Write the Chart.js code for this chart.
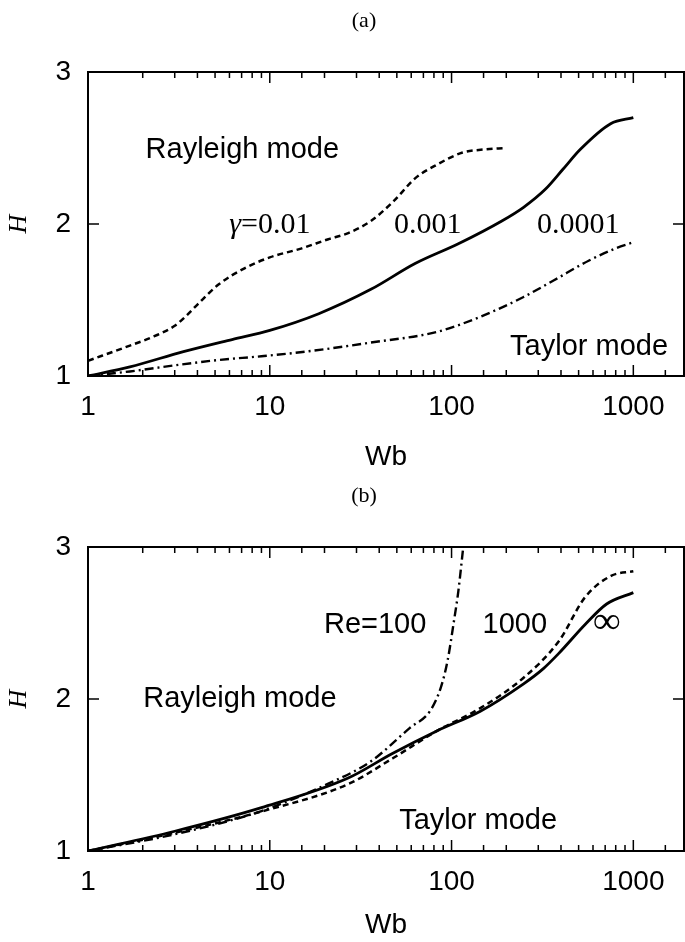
<!DOCTYPE html>
<html>
<head>
<meta charset="utf-8">
<script src="https://cdn.jsdelivr.net/npm/chart.js@4.4.0/dist/chart.umd.min.js"></script>
<style>
  body { margin: 0; background: #fff; }
  #wrap { position: relative; width: 685px; height: 942px; }
  canvas { position: absolute; left: 0; }
</style>
</head>
<body>
<div id="wrap">
  <canvas id="chartA" width="685" height="475" style="top:0"></canvas>
  <canvas id="chartB" width="685" height="467" style="top:475px"></canvas>
</div>
<script>
// x tick labels (log axis)
const wbTicks = [1, 10, 100, 1000];

// panel (a): gamma = 0.01, 0.001, 0.0001
const wbA1 = [1, 1.7, 2.3, 3, 3.5, 4, 5.2, 7.3, 10, 15, 21, 27, 36, 48, 63, 83, 115, 150, 200];
const hA1  = [1.10, 1.20, 1.26, 1.33, 1.40, 1.47, 1.60, 1.71, 1.78, 1.84, 1.90, 1.94, 2.02, 2.15, 2.30, 2.39, 2.47, 2.49, 2.50];
const wbA2 = [1, 1.7, 3.35, 6.2, 10, 18.6, 36, 63, 109, 189, 249, 329, 410, 510, 750, 1000];
const hA2  = [1.0, 1.06, 1.16, 1.24, 1.30, 1.41, 1.57, 1.74, 1.87, 2.02, 2.11, 2.23, 2.36, 2.49, 2.66, 2.70];
const wbA3 = [1, 1.7, 3, 5.2, 9, 15.7, 36, 83, 144, 249, 366, 571, 800, 1000];
const hA3  = [1.0, 1.03, 1.07, 1.105, 1.13, 1.16, 1.22, 1.29, 1.39, 1.52, 1.63, 1.76, 1.84, 1.88];

// panel (b): Re = 100, 1000, infinity
const wbB1 = [1, 3, 9, 20.7, 36, 59, 76, 87, 95, 103, 109, 116];
const hB1  = [1.0, 1.11, 1.263, 1.44, 1.59, 1.81, 1.92, 2.07, 2.25, 2.51, 2.71, 3.0];
const wbB2 = [1, 3, 9, 27, 47.5, 83, 144, 249, 389, 543, 754, 1000];
const hB2  = [1.0, 1.12, 1.26, 1.44, 1.61, 1.79, 1.94, 2.14, 2.38, 2.67, 2.81, 2.84];
const wbB3 = [1, 3, 9, 27, 47, 83, 144, 249, 320, 389, 543, 713, 1000];
const hB3  = [1.0, 1.13, 1.285, 1.48, 1.64, 1.79, 1.92, 2.10, 2.20, 2.30, 2.49, 2.625, 2.70];

const sans = '29px "Liberation Sans"';
const serif = '30px "Liberation Serif"';

const pts = (xs, ys) => xs.map((v, i) => ({ x: v, y: ys[i] }));

function line(xs, ys, dash, width) {
  return {
    data: pts(xs, ys),
    borderColor: '#000',
    borderWidth: width,
    borderDash: dash,
    pointRadius: 0,
    cubicInterpolationMode: 'monotone',
    fill: false
  };
}

// frame, inward ticks, panel title and text labels
const panelText = {
  id: 'panelText',
  afterDraw(chart, args, opts) {
    const { ctx, chartArea: a, scales: { x, y } } = chart;
    ctx.save();
    ctx.strokeStyle = '#000';
    ctx.lineWidth = 2;
    ctx.strokeRect(a.left, a.top, a.right - a.left, a.bottom - a.top);
    ctx.lineWidth = 1.5;
    ctx.beginPath();
    x.ticks.forEach(t => {
      const px = x.getPixelForValue(t.value);
      if (px <= a.left + 1 || px >= a.right - 1) return;
      const len = t.major ? 11 : 6;
      ctx.moveTo(px, a.bottom); ctx.lineTo(px, a.bottom - len);
      ctx.moveTo(px, a.top); ctx.lineTo(px, a.top + len);
    });
    y.ticks.forEach(t => {
      const py = y.getPixelForValue(t.value);
      if (py <= a.top + 1 || py >= a.bottom - 1) return;
      ctx.moveTo(a.left, py); ctx.lineTo(a.left + 11, py);
      ctx.moveTo(a.right, py); ctx.lineTo(a.right - 11, py);
    });
    ctx.stroke();

    ctx.fillStyle = '#000';
    ctx.textBaseline = 'middle';
    ctx.textAlign = 'center';
    ctx.font = '22px "Liberation Serif"';
    ctx.fillText(opts.title, (a.left + a.right) / 2 - 22, 21);

    ctx.textAlign = 'left';
    opts.notes.forEach(n => {
      let w = 0;
      n.parts.forEach(p => { ctx.font = p.font; w += ctx.measureText(p.t).width; });
      let cx = x.getPixelForValue(n.wb) - w / 2;
      const cy = y.getPixelForValue(n.h);
      n.parts.forEach(p => {
        ctx.font = p.font;
        ctx.fillText(p.t, cx, cy);
        cx += ctx.measureText(p.t).width;
      });
    });
    ctx.restore();
  }
};

function makeChart(id, datasets, title, notes, wbPad) {
  return new Chart(document.getElementById(id), {
    type: 'line',
    data: { datasets },
    options: {
      responsive: false,
      animation: false,
      layout: { padding: { top: 72, right: 1, left: 0, bottom: 0 } },
      plugins: {
        legend: { display: false },
        tooltip: { enabled: false },
        panelText: { title, notes }
      },
      scales: {
        x: {
          type: 'logarithmic',
          min: 1,
          max: 1900,
          // labels pushed down by the (hidden) tick length, so padding stays 0
          grid: { display: false, drawTicks: true, tickLength: 14 },
          border: { display: false },
          ticks: {
            autoSkip: false,
            maxRotation: 0,
            padding: 0,
            color: '#000',
            font: { family: 'Liberation Sans', size: 28 },
            callback: v => wbTicks.includes(v) ? String(v) : ''
          },
          title: {
            display: true, text: 'Wb', color: '#000',
            font: { family: 'Liberation Sans', size: 28 },
            padding: { top: 0, bottom: wbPad }
          },
          afterFit: s => { s.height = s.chart.height - 376; }
        },
        y: {
          min: 1,
          max: 3,
          grid: { display: false, drawTicks: false },
          border: { display: false },
          ticks: {
            stepSize: 1,
            padding: 17,
            color: '#000',
            font: { family: 'Liberation Sans', size: 28 }
          },
          title: {
            display: true, text: 'H', color: '#000',
            font: { family: 'Liberation Serif', style: 'italic', size: 26 },
            padding: { top: 4, bottom: 0 }
          },
          afterFit: s => { s.width = 88; }
        }
      }
    },
    plugins: [panelText]
  });
}

makeChart('chartA', [
  line(wbA1, hA1, [6, 4], 2.5),
  line(wbA2, hA2, [], 2.8),
  line(wbA3, hA3, [9, 4, 2, 4], 2.4)
], '(a)', [
  { wb: 7.06, h: 2.49, parts: [{ t: 'Rayleigh mode', font: sans }] },
  { wb: 10, h: 1.99, parts: [{ t: 'γ', font: 'italic ' + serif }, { t: '=0.01', font: serif }] },
  { wb: 74, h: 1.99, parts: [{ t: '0.001', font: serif }] },
  { wb: 497, h: 1.99, parts: [{ t: '0.0001', font: serif }] },
  { wb: 571, h: 1.19, parts: [{ t: 'Taylor mode', font: sans }] }
], 1);

makeChart('chartB', [
  line(wbB1, hB1, [9, 4, 2, 4], 2.4),
  line(wbB2, hB2, [6, 4], 2.5),
  line(wbB3, hB3, [], 2.8)
], '(b)', [
  { wb: 38, h: 2.49, parts: [{ t: 'Re=100', font: sans }] },
  { wb: 223, h: 2.49, parts: [{ t: '1000', font: sans }] },
  { wb: 714, h: 2.50, parts: [{ t: '∞', font: 'bold 38px "Liberation Serif"' }] },
  { wb: 6.85, h: 2.0, parts: [{ t: 'Rayleigh mode', font: sans }] },
  { wb: 140, h: 1.20, parts: [{ t: 'Taylor mode', font: sans }] }
], 0);
</script>
</body>
</html>
